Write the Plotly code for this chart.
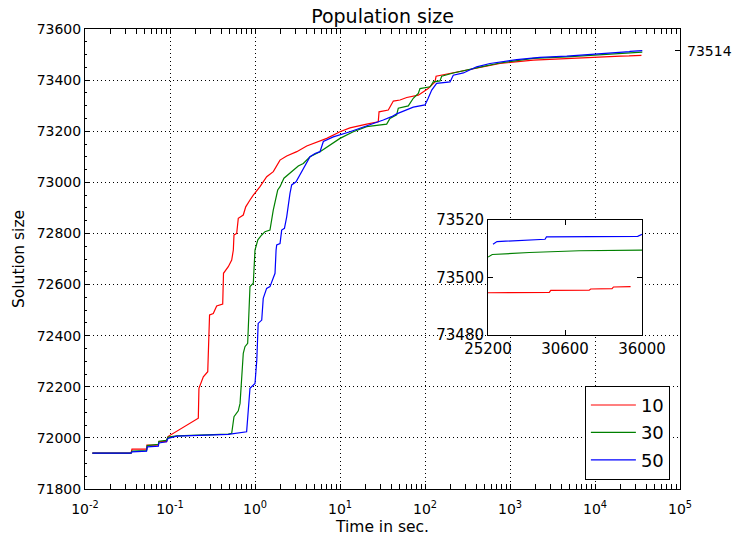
import plotly.graph_objects as go

# ---------------- data ----------------
t_10 = [0.0122, 0.0348, 0.0357, 0.0532, 0.0535, 0.0728, 0.0741, 0.0914, 0.0946, 0.2153,
        0.219, 0.2466, 0.278, 0.284, 0.292, 0.323, 0.354, 0.417, 0.426, 0.485,
        0.532, 0.556, 0.566, 0.609, 0.636, 0.728, 0.778, 0.873, 0.955, 1.145,
        1.373, 1.642, 1.968, 2.36, 3.10, 4.06, 4.85, 6.98, 10.0, 13.1,
        20.6, 28.2, 28.8, 37.0, 42.4, 50.8, 61.0, 83.4, 109, 131,
        135, 197, 310, 486, 762, 1880, 4650, 11450, 20000, 25200,
        29500, 29600, 32300, 32400, 33900, 34000, 35200]
v_10 = [71940, 71940, 71956, 71956, 71972, 71972, 71985, 71985, 72005, 72077,
        72194, 72239, 72259, 72370, 72481, 72487, 72516, 72524, 72644, 72670,
        72696, 72735, 72794, 72800, 72859, 72872, 72904, 72931, 72950, 72983,
        73022, 73042, 73087, 73103, 73120, 73142, 73152, 73172, 73198, 73213,
        73228, 73237, 73276, 73283, 73318, 73322, 73332, 73341, 73367, 73393,
        73415, 73426, 73441, 73454, 73465, 73478, 73485, 73490, 73494, 73494.7,
        73494.8, 73495.5, 73495.6, 73496.0, 73496.1, 73496.7, 73496.8]

t_30 = [0.0122, 0.0348, 0.0357, 0.053, 0.054, 0.073, 0.074, 0.09, 0.095, 0.120,
        0.485, 0.532, 0.566, 0.636, 0.667, 0.728, 0.762, 0.820, 0.873, 0.955,
        1.0, 1.08, 1.20, 1.31, 1.50, 1.64, 1.85, 1.97, 2.19, 2.58,
        3.23, 3.70, 4.44, 5.82, 7.62, 10.0, 14.3, 20.6, 35.4, 38.7,
        46.4, 48.5, 63.6, 72.8, 83.4, 87.3, 115, 125, 150, 157,
        215, 310, 486, 762, 1880, 4650, 11450, 25200, 25500, 28100,
        31600, 36000]
v_30 = [71940, 71940, 71948, 71950, 71970, 71975, 71987, 71990, 72003, 72008,
        72015, 72018, 72083, 72106, 72135, 72331, 72357, 72370, 72592, 72605,
        72735, 72775, 72794, 72807, 72813, 72891, 72970, 72983, 73016, 73035,
        73064, 73074, 73100, 73120, 73146, 73172, 73198, 73218, 73228, 73250,
        73264, 73290, 73299, 73329, 73348, 73367, 73374, 73393, 73397, 73415,
        73428, 73441, 73454, 73467, 73485, 73491, 73500, 73507.1, 73508, 73508.7,
        73509.3, 73509.5]

t_50 = [0.0122, 0.0348, 0.0357, 0.053, 0.054, 0.073, 0.074, 0.091, 0.0946, 0.120,
        0.485, 0.797, 0.834, 0.873, 1.0, 1.05, 1.09, 1.20, 1.25, 1.37,
        1.50, 1.72, 1.77, 1.80, 1.97, 2.06, 2.22, 2.36, 2.58, 2.70,
        3.04, 3.38, 3.87, 4.44, 5.08, 5.82, 6.37, 8.34, 13.1, 20.6,
        32.3, 40.5, 46.4, 72.8, 100, 109, 120, 137, 197, 215,
        283, 405, 582, 1200, 2250, 4650, 11450, 25550, 25830, 29200,
        29300, 35700, 36000]
v_50 = [71940, 71940, 71945, 71948, 71965, 71968, 71980, 71985, 71998, 72007,
        72014, 72024, 72109, 72194, 72213, 72305, 72448, 72461, 72546, 72585,
        72592, 72644, 72735, 72755, 72760, 72813, 72820, 72865, 72957, 72990,
        73002, 73030, 73068, 73100, 73113, 73120, 73160, 73178, 73198, 73220,
        73244, 73257, 73268, 73294, 73303, 73329, 73361, 73387, 73393, 73419,
        73428, 73452, 73465, 73480, 73489, 73494, 73502, 73511.6, 73512.5, 73513.3,
        73514.1, 73514.3, 73515]

series_names = ["10", "30", "50"]
series_colors = ["#ff0000", "#008000", "#0000ff"]

x_tick_vals = [0.01, 0.1, 1, 10, 100, 1000, 10000, 100000]
x_tick_text = ["10<sup>-2</sup>", "10<sup>-1</sup>", "10<sup>0</sup>", "10<sup>1</sup>",
               "10<sup>2</sup>", "10<sup>3</sup>", "10<sup>4</sup>", "10<sup>5</sup>"]
right_tick = [73514]

inset_x_ticks = [25200, 30600, 36000]
inset_y_ticks = [73480, 73500, 73520]
inset_x_range = [25200, 36000]
inset_y_range = [73480, 73520]
main_y_range = [71800, 73600]

FONT = "DejaVu Sans"

# ---------------- figure ----------------
fig = go.Figure()
all_series = [(t_10, v_10), (t_30, v_30), (t_50, v_50)]

for (t, v), name, col in zip(all_series, series_names, series_colors):
    fig.add_trace(go.Scatter(x=t, y=v, mode="lines", name=name,
                             line=dict(color=col, width=1.2),
                             xaxis="x", yaxis="y", legendgroup=name,
                             hoverinfo="skip"))

# invisible trace to carry the right-hand axis
fig.add_trace(go.Scatter(x=[t_50[-1]], y=right_tick, mode="lines", showlegend=False,
                         xaxis="x", yaxis="y3", opacity=0, hoverinfo="skip"))

# inset traces
for (t, v), name, col in zip(all_series, series_names, series_colors):
    tt = [a for a in t if a >= inset_x_range[0]]
    vv = [b for a, b in zip(t, v) if a >= inset_x_range[0]]
    fig.add_trace(go.Scatter(x=tt, y=vv, mode="lines", showlegend=False,
                             line=dict(color=col, width=1.2),
                             xaxis="x2", yaxis="y2", hoverinfo="skip"))

W, H = 737, 536
ml, mr, mt, mb = 85, 57, 29, 47
pw, ph = W - ml - mr, H - mt - mb

ix0, ix1 = (488 - ml) / pw, (642 - ml) / pw
iy0, iy1 = (H - mb - 335) / ph, (H - mb - 220) / ph

fig.add_shape(type="rect", xref="x2 domain", yref="y2 domain", x0=0, x1=1, y0=0, y1=1,
              fillcolor="white", line=dict(width=0), layer="below")

axis_common = dict(showline=True, linecolor="black", linewidth=1, zeroline=False,
                   ticks="inside", tickcolor="black", ticklen=5, automargin=False,
                   tickfont=dict(family=FONT, size=14, color="black"))
inset_font = dict(family=FONT, size=15, color="black")
GRID = dict(showgrid=True, gridcolor="black", griddash="1px,3px", gridwidth=1)

fig.update_layout(
    width=W, height=H,
    margin=dict(l=ml, r=mr, t=mt, b=mb, autoexpand=False),
    paper_bgcolor="white", plot_bgcolor="white",
    font=dict(family=FONT, color="black"),
    title=dict(text="Population size", x=0.5, xanchor="center", xref="paper",
               y=1, yref="paper", yanchor="bottom", pad=dict(b=6),
               font=dict(family=FONT, size=19, color="black")),
    xaxis=dict(type="log", range=[-2, 5], domain=[0, 1], anchor="y",
               mirror="allticks", tickvals=x_tick_vals, ticktext=x_tick_text,
               ticklabelstandoff=7,
               minor=dict(ticks="inside", ticklen=2, tickcolor="black", dtick="D1", showgrid=False),
               title=dict(text="Time in sec.", font=dict(family=FONT, size=15.5), standoff=7),
               **GRID, **axis_common),
    yaxis=dict(range=main_y_range, domain=[0, 1], anchor="x", mirror=True,
               dtick=200, tick0=71800, tickformat="d",
               minor=dict(ticks="inside", ticklen=2, tickcolor="black", dtick=50, showgrid=False),
               title=dict(text="Solution size", font=dict(family=FONT, size=15.5), standoff=8),
               **GRID, **axis_common),
    yaxis3=dict(overlaying="y", side="right", range=main_y_range, anchor="x",
                tickvals=right_tick, ticktext=[str(v) for v in right_tick],
                showgrid=False, showline=False, zeroline=False, automargin=False,
                ticks="inside", ticklen=5, tickcolor="black", ticklabelstandoff=6,
                tickfont=dict(family=FONT, size=14, color="black")),
    xaxis2=dict(domain=[ix0, ix1], anchor="y2", range=inset_x_range,
                tickvals=inset_x_ticks, ticktext=[str(v) for v in inset_x_ticks],
                mirror="allticks", showgrid=False,
                **{**axis_common, "tickfont": inset_font}),
    yaxis2=dict(domain=[iy0, iy1], anchor="x2", range=inset_y_range,
                tickvals=inset_y_ticks, ticktext=[str(v) for v in inset_y_ticks],
                mirror="allticks", showgrid=False,
                **{**axis_common, "tickfont": inset_font}),
    legend=dict(x=0.983, y=0.02, xanchor="right", yanchor="bottom",
                bordercolor="black", borderwidth=1, bgcolor="white",
                font=dict(family=FONT, size=18, color="black"),
                traceorder="grouped", tracegroupgap=1, itemwidth=45),
    showlegend=True,
)

fig.write_html("out.html")
